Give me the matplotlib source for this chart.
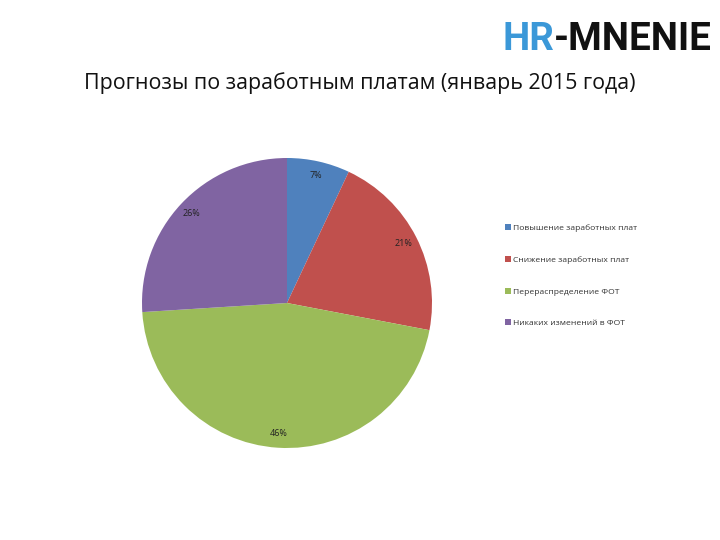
import matplotlib
matplotlib.use("Agg")
import matplotlib.pyplot as plt

categories = ["Повышение заработных плат", "Снижение заработных плат",
              "Перераспределение ФОТ", "Никаких изменений в ФОТ"]
values = [7, 21, 46, 26]
colors = ["#4F81BD", "#C0504D", "#9BBB59", "#8064A2"]
title = "Прогнозы по заработным платам (январь 2015 года)"

plt.rcParams['font.family'] = ['Open Sans', 'DejaVu Sans']

fig = plt.figure(figsize=(7.2, 5.4), dpi=100)
fig.patch.set_facecolor("white")

cx, cy, r = 287 / 720, 1 - 303 / 540, 145
ax = fig.add_axes([cx - r / 720, cy - r / 540, 2 * r / 720, 2 * r / 540])
wedges, texts, autotexts = ax.pie(
    values, colors=colors, startangle=90, counterclock=False,
    autopct=lambda p: f"{p:.0f}%", pctdistance=0.9,
    textprops=dict(fontsize=6.5, color="#222222"))
ax.set_aspect("auto")
ax.set_xlim(-1, 1)
ax.set_ylim(-1, 1)

fig.text(360 / 720, 1 - 83 / 540, title, ha="center", va="center",
         fontsize=15.4, color="#111111")

# logo
logo_kw = dict(fontweight="bold", family=["Roboto", "Liberation Sans", "DejaVu Sans"],
               va="baseline")
fs = 37
t2 = fig.text(712 / 720, 1 - 50 / 540, "-MNENIE", ha="right", color="#111111",
              fontsize=fs, **logo_kw)
t1 = fig.text(503 / 720, 1 - 50 / 540, "HR", ha="left", color="#3B98D8",
              fontsize=fs, **logo_kw)
fig.canvas.draw()
rend = fig.canvas.get_renderer()
w_total = t1.get_window_extent(rend).width + t2.get_window_extent(rend).width
scale = min(1.0, 209 / w_total)
t1.set_fontsize(fs * scale)
t2.set_fontsize(fs * scale)
fig.canvas.draw()
w1 = t1.get_window_extent(rend).width
w2 = t2.get_window_extent(rend).width
t1.set_x((712 - w2 - w1) / 720)

leg = fig.legend(wedges, categories, loc="upper left",
                 bbox_to_anchor=(505 / 720, 1 - 224 / 540),
                 frameon=False, fontsize=6.1, labelspacing=2.82,
                 handlelength=0.7, handleheight=0.7, handletextpad=0.3,
                 borderpad=0, borderaxespad=0)
for t in leg.get_texts():
    t.set_color("#333333")

fig.savefig("out.png", dpi=100)
